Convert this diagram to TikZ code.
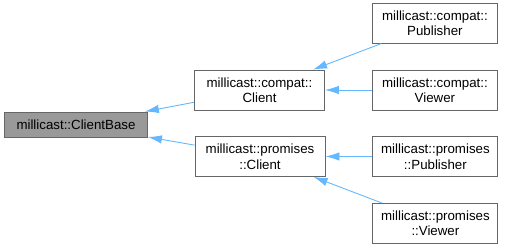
\documentclass[tikz,border=0pt]{standalone}
\usepackage{fontspec}
\setmainfont{Liberation Sans}
\usetikzlibrary{positioning, arrows.meta}

\definecolor{edgeblue}{HTML}{63B8FF}
\definecolor{boxline}{HTML}{666666}
\definecolor{basefill}{HTML}{999999}

\tikzset{
  cls/.style={draw=boxline, fill=white, line width=0.9pt, align=center,
    inner sep=2pt, minimum height=40pt,
    font=\fontsize{13.3}{15.5}\selectfont},
  base/.style={cls, fill=basefill, minimum height=25pt, minimum width=143pt},
}

\begin{document}
\begin{tikzpicture}[x=1pt, y=1pt, >={Latex[length=14pt,width=8.5pt]}, node distance=26pt]
    \useasboundingbox (0,0) rectangle (509,-247);

    \node[base] (cb) at (76,-124.5) {millicast::ClientBase};
    \node[cls, minimum width=130pt] (cc) at (259.5,-90) {millicast::compat::\\Client};
    \node[cls, minimum width=130pt] (pc) at (260,-156.5) {millicast::promises\\::Client};

    \node[cls, minimum width=125pt] (cv) [right=47pt of cc] {millicast::compat::\\Viewer};
    \node[cls, minimum width=125pt] (cp) [above=26pt of cv] {millicast::compat::\\Publisher};
    \node[cls, minimum width=125pt] (pp) [right=47pt of pc] {millicast::promises\\::Publisher};
    \node[cls, minimum width=125pt] (pv) [below=26pt of pp] {millicast::promises\\::Viewer};

    \path[->, color=edgeblue, line width=0.9pt]
    (cc) edge (cb)
    (pc) edge (cb)
    (cp) edge (cc)
    (cv) edge (cc)
    (pp) edge (pc)
    (pv) edge (pc);
\end{tikzpicture}
\end{document}
